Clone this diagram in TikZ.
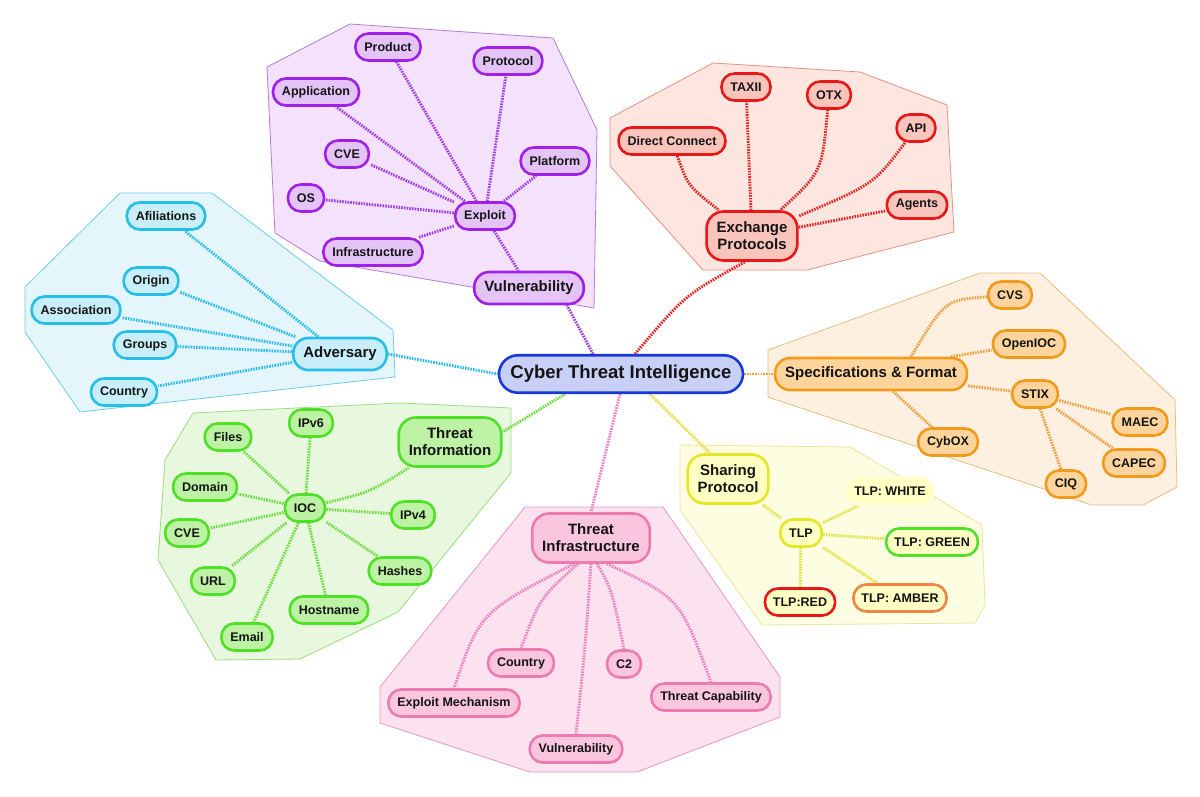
\documentclass[tikz,border=0pt]{standalone}
\usepackage{fontspec}
\setmainfont{Liberation Sans}
\pgfdeclarelayer{bg}
\pgfdeclarelayer{edges}
\pgfsetlayers{bg,edges,main}
\definecolor{ctB}{HTML}{1838D8}\definecolor{ctF}{HTML}{C8D0F8}
\definecolor{puB}{HTML}{A020E8}\definecolor{puF}{HTML}{E4C4F6}\definecolor{puP}{HTML}{F4E2FC}\definecolor{puE}{HTML}{B27CD6}\definecolor{puL}{HTML}{A040E0}
\definecolor{reB}{HTML}{E81818}\definecolor{reF}{HTML}{F8C4BC}\definecolor{reP}{HTML}{FDE6E0}\definecolor{reE}{HTML}{E89080}\definecolor{reL}{HTML}{E02828}
\definecolor{cyB}{HTML}{28BEEA}\definecolor{cyF}{HTML}{C8EEFA}\definecolor{cyP}{HTML}{E4F6FC}\definecolor{cyE}{HTML}{70CCE8}\definecolor{cyL}{HTML}{30BCE8}
\definecolor{orB}{HTML}{F29A1C}\definecolor{orF}{HTML}{FCD49C}\definecolor{orP}{HTML}{FDF0E0}\definecolor{orE}{HTML}{E8BC80}\definecolor{orL}{HTML}{F0A040}
\definecolor{grB}{HTML}{50E028}\definecolor{grF}{HTML}{BDF2A4}\definecolor{grP}{HTML}{E8F8DE}\definecolor{grE}{HTML}{9CDC80}\definecolor{grL}{HTML}{70DC44}
\definecolor{piB}{HTML}{EC7CB0}\definecolor{piF}{HTML}{F9C6DE}\definecolor{piP}{HTML}{FBE2EE}\definecolor{piE}{HTML}{E49AC0}\definecolor{piL}{HTML}{F080C0}
\definecolor{yeB}{HTML}{E6E628}\definecolor{yeF}{HTML}{FFFFC4}\definecolor{yeP}{HTML}{FDFDE2}\definecolor{yeE}{HTML}{E6E69A}\definecolor{yeL}{HTML}{E6E040}
\definecolor{txt}{HTML}{141414}
\tikzset{
  box/.style={draw, line width=2.6pt, rounded corners=13pt, inner xsep=9pt, inner ysep=1pt,
    minimum height=27pt, font=\fontsize{12.5}{14}\selectfont\bfseries, text=txt, align=center},
  hub/.style={box, minimum height=32pt, rounded corners=15pt, inner xsep=10pt,
    font=\fontsize{15}{17}\selectfont\bfseries},
  hubtwo/.style={hub, minimum height=49pt, rounded corners=17pt},
  core/.style={box, minimum height=37.5pt, rounded corners=19pt, inner xsep=11.5pt,
    font=\fontsize{18.5}{20}\selectfont\bfseries},
  lnk/.style={line width=2.9pt, dash pattern=on 1.6pt off 1.1pt},
  zone/.style={line width=0.8pt, line join=round},
  pu/.style={draw=puB, fill=puF}, re/.style={draw=reB, fill=reF},
  cy/.style={draw=cyB, fill=cyF}, ora/.style={draw=orB, fill=orF},
  gr/.style={draw=grB, fill=grF}, pi/.style={draw=piB, fill=piF},
  ye/.style={draw=yeB, fill=yeF}
}
\begin{document}
\begin{tikzpicture}[x=1pt,y=-1pt]
\useasboundingbox (0,0) rectangle (1200,796);
% zones
\begin{pgfonlayer}{bg}
\fill[white] (0,0) rectangle (1200,796);
\filldraw[zone, fill=puP, draw=puE] (267,67)--(350,24)--(553,38)--(597,130)--(594,308)--(320,261)--(275,233)--cycle;
\filldraw[zone, fill=reP, draw=reE] (610,118)--(713,63)--(860,72)--(947,105)--(954,232)--(807,270)--(703,270)--(610,166)--cycle;
\filldraw[zone, fill=cyP, draw=cyE] (25,287)--(120,193)--(212,193)--(393,330)--(395,377)--(80,412)--(25,332)--cycle;
\filldraw[zone, fill=orP, draw=orE] (768,350)--(980,273)--(1040,273)--(1175,400)--(1177,487)--(1143,505)--(1092,505)--(768,397)--cycle;
\filldraw[zone, fill=grP, draw=grE] (193,413)--(400,403)--(511,408)--(511,473)--(398,612)--(300,659)--(216,660)--(158,560)--(165,460)--cycle;
\filldraw[zone, fill=piP, draw=piE] (380,687)--(525,507)--(663,507)--(780,677)--(780,717)--(637,772)--(530,772)--(380,723)--cycle;
\filldraw[zone, fill=yeP, draw=yeE] (680,445)--(850,447)--(982,525)--(985,605)--(975,623)--(762,625)--(680,510)--cycle;
\end{pgfonlayer}
% nodes
\node[core, draw=ctB, fill=ctF] (ct) at (621,374) {Cyber Threat Intelligence};
% purple
\node[hub, pu] (vul) at (529,288) {Vulnerability};
\node[box, pu] (exp) at (485,216) {Exploit};
\node[box, pu] (prod) at (388,47) {Product};
\node[box, pu] (prot) at (508,61) {Protocol};
\node[box, pu] (app) at (316,92) {Application};
\node[box, pu] (cvea) at (347,154) {CVE};
\node[box, pu] (plat) at (555,161) {Platform};
\node[box, pu] (os) at (306,198) {OS};
\node[box, pu] (infra) at (373,252) {Infrastructure};
% red
\node[hubtwo, re] (exch) at (752,236) {Exchange\\Protocols};
\node[box, re] (taxii) at (746,87) {TAXII};
\node[box, re] (otx) at (829,95) {OTX};
\node[box, re] (dc) at (672,141) {Direct Connect};
\node[box, re] (api) at (916,128) {API};
\node[box, re] (agents) at (917,205) {Agents};
% cyan
\node[hub, cy] (adv) at (340,354) {Adversary};
\node[box, cy] (afil) at (166,216) {Afiliations};
\node[box, cy] (orig) at (151,281) {Origin};
\node[box, cy] (assoc) at (76,310) {Association};
\node[box, cy] (groups) at (145,345) {Groups};
\node[box, cy] (ctrya) at (124,392) {Country};
% orange
\node[hub, ora] (sf) at (871,374) {Specifications \& Format};
\node[box, ora] (cvs) at (1010,295) {CVS};
\node[box, ora] (openioc) at (1029,344) {OpenIOC};
\node[box, ora] (stix) at (1035,394) {STIX};
\node[box, ora] (maec) at (1140,422) {MAEC};
\node[box, ora] (capec) at (1134,463) {CAPEC};
\node[box, ora] (ciq) at (1066,484) {CIQ};
\node[box, ora] (cybox) at (948,442) {CybOX};
% green
\node[hubtwo, gr] (ti) at (450,442) {Threat\\Information};
\node[box, gr] (ipvsix) at (311,423) {IPv6};
\node[box, gr] (files) at (228,437) {Files};
\node[box, gr] (domain) at (205,487) {Domain};
\node[box, gr] (ioc) at (305,508) {IOC};
\node[box, gr] (cveb) at (187,533) {CVE};
\node[box, gr] (ipvfour) at (413,515) {IPv4};
\node[box, gr] (url) at (213,581) {URL};
\node[box, gr] (hashes) at (400,571) {Hashes};
\node[box, gr] (host) at (329,610) {Hostname};
\node[box, gr] (email) at (247,637) {Email};
% pink
\node[hubtwo, pi] (tinf) at (591,538) {Threat\\Infrastructure};
\node[box, pi] (ctryb) at (521,663) {Country};
\node[box, pi] (ctwo) at (624,664) {C2};
\node[box, pi] (em) at (454,703) {Exploit Mechanism};
\node[box, pi] (tc) at (711,697) {Threat Capability};
\node[box, pi] (vulb) at (576,749) {Vulnerability};
% yellow
\node[hubtwo, ye] (sp) at (728,479) {Sharing\\Protocol};
\node[box, ye] (tlp) at (801,533) {TLP};
\node[box, draw=yeF!70!white, fill=yeF, inner xsep=8pt] (white) at (890,491) {TLP: WHITE};
\node[box, draw=grB, fill=yeF, inner xsep=8pt] (green) at (932,542) {TLP: GREEN};
\node[box, draw=reB, fill=yeF, inner xsep=8pt] (red) at (800,602) {TLP:RED};
\node[box, draw=orB!60!reB!80!white, fill=yeF, inner xsep=8pt] (amber) at (900,598) {TLP: AMBER};
% edges
\begin{pgfonlayer}{edges}
\draw[lnk, puL] ([xshift=-28pt]ct.north) -- ([xshift=38pt]vul.south);
\foreach \n in {vul,prod,prot,app,cvea,plat,os,infra} \draw[lnk, puL] (exp) -- (\n);
\draw[lnk, reL] ([xshift=14pt]ct.north) .. controls (685,295) .. ([xshift=-7pt]exch.south);
\draw[lnk, reL] (exch) -- (taxii);
\draw[lnk, reL] (dc) .. controls (688,186) .. (exch);
\draw[lnk, reL] (otx) .. controls (822,172) .. (exch);
\draw[lnk, reL] (api) .. controls (874,184) .. (exch);
\draw[lnk, reL] (exch) -- (agents);
\draw[lnk, cyL] (adv.east) -- (ct.west);
\foreach \n in {afil,orig,assoc,groups,ctrya} \draw[lnk, cyL] (adv) -- (\n);
\draw[lnk, orL] (ct.east) -- (sf.west);
\draw[lnk, orL] ([xshift=40pt]sf.north) .. controls (945,300) .. (cvs);
\draw[lnk, orL] ([xshift=80pt]sf.north) -- (openioc);
\draw[lnk, orL] (sf) -- (stix);
\draw[lnk, orL] ([xshift=22pt]sf.south) -- (cybox);
\foreach \n in {maec,capec,ciq} \draw[lnk, orL] (stix) -- (\n);
\draw[lnk, grL] ([xshift=-56pt]ct.south) -- ([yshift=10pt]ti.east);
\draw[lnk, grL] (ioc) .. controls (370,492) .. (ti);
\foreach \n in {ipvsix,files,domain,cveb,ipvfour,url,hashes,host,email} \draw[lnk, grL] (ioc) -- (\n);
\draw[lnk, piL] ([xshift=-1pt]ct.south) -- (tinf.north);
\draw[lnk, piL] ([xshift=-17pt]tinf.south) .. controls (480,612) .. (em.north);
\draw[lnk, piL] ([xshift=-13pt]tinf.south) .. controls (540,598) .. (ctryb.north);
\draw[lnk, piL] (tinf.south) .. controls (585,650) .. (vulb.north);
\draw[lnk, piL] ([xshift=6pt]tinf.south) .. controls (612,590) .. (ctwo.north);
\draw[lnk, piL] ([xshift=16pt]tinf.south) .. controls (680,598) .. (tc.north);
\draw[lnk, yeL] ([xshift=29pt]ct.south) -- ([xshift=-18pt]sp.north);
\draw[lnk, yeL] (sp) -- (tlp);
\foreach \n in {white,green,red,amber} \draw[lnk, yeL] (tlp) -- (\n);
\end{pgfonlayer}
\end{tikzpicture}
\end{document}
